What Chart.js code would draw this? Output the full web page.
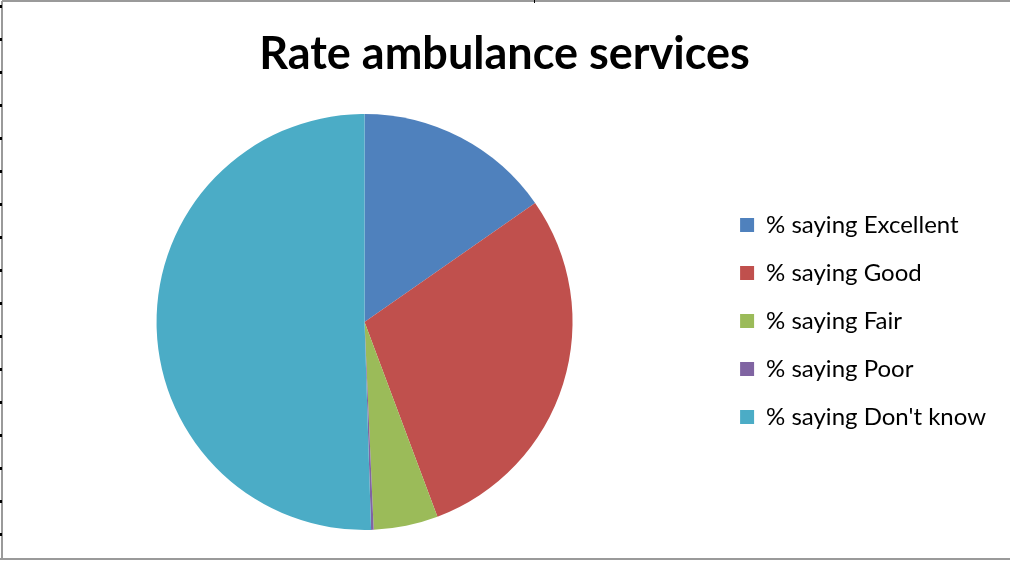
<!DOCTYPE html>
<html>
<head>
<meta charset="utf-8">
<script src="https://cdn.jsdelivr.net/npm/chart.js@4"></script>
<style>
  html, body { margin: 0; padding: 0; background: #fff; }
  #wrap { width: 1010px; height: 561px; position: relative; }
</style>
</head>
<body>
<div id="wrap"><canvas id="chart1" width="1010" height="561"></canvas></div>
<script>
const categories = [
    '% saying Excellent',
    '% saying Good',
    '% saying Fair',
    '% saying Poor',
    "% saying Don't know"
]
const values = [15.3, 29.0, 5.0, 0.2, 50.5]
const colors = ['#4F81BD', '#C0504D', '#9BBB59', '#8064A2', '#4BACC6']

// frame and little sheet ticks on the left edge
const framePlugin = {
    id: 'frame',
    beforeDraw(chart){
        const ctx = chart.ctx
        ctx.save()
        ctx.fillStyle = '#fff'
        ctx.fillRect(0, 0, chart.width, chart.height)
        ctx.strokeStyle = '#9a9a9a'
        ctx.lineWidth = 2
        ctx.beginPath()
        ctx.moveTo(2, 1); ctx.lineTo(chart.width, 1)
        ctx.moveTo(2, 1); ctx.lineTo(2, 559)
        ctx.moveTo(0, 559); ctx.lineTo(chart.width, 559)
        ctx.stroke()
        ctx.fillStyle = '#000'
        for (let y = 5; y < 545; y += 33) ctx.fillRect(0, y, 2, 3)
        ctx.fillRect(534, 0, 1, 3)
        ctx.restore()
    }
}

// keep the legend block centred on the pie, like the excel one
const legendCentre = {
    id: 'legendCentre',
    afterLayout(chart){
        const l = chart.legend
        const area = chart.chartArea
        const h = l.bottom - l.top
        l.top = (area.top + area.bottom) / 2 - 133
        l.bottom = l.top + Math.max(h, 300)
    }
}

function loadChart(){
    const ctx = document.getElementById('chart1').getContext('2d')

    const data = {
        labels: categories,
        datasets: [{
            data: values,
            backgroundColor: colors,
            borderWidth: 0
        }]
    }

    const config = {
        type: 'pie',
        data: data,
        plugins: [framePlugin, legendCentre],
        options: {
            responsive: false,
            animation: false,
            layout: { padding: { left: 13, right: 14, top: 0, bottom: 31 } },
            plugins: {
                title: {
                    display: true,
                    text: 'Rate ambulance services',
                    color: '#000',
                    font: { family: 'Lato', size: 45, weight: 'bold' },
                    padding: { top: 27, bottom: 33 }
                },
                legend: {
                    position: 'right',
                    align: 'start',
                    labels: {
                        color: '#000',
                        font: { family: 'Lato', size: 24 },
                        boxWidth: 14,
                        boxHeight: 14,
                        padding: 24
                    }
                },
                tooltip: { enabled: false }
            }
        }
    }

    new Chart(ctx, config)
}

loadChart()
</script>
</body>
</html>
